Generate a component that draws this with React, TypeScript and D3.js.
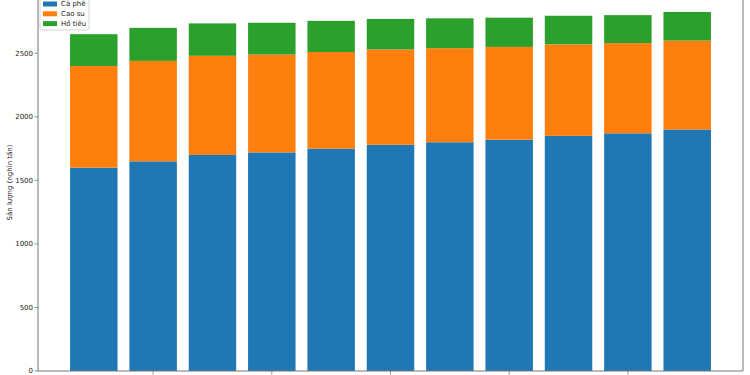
import React from "react";
import * as d3 from "d3";

const years = ["2015", "2016", "2017", "2018", "2019", "2020", "2021", "2022", "2023", "2024", "2025"];
const caPhe = [1600, 1650, 1700, 1720, 1750, 1780, 1800, 1820, 1850, 1870, 1900];
const caoSu = [800, 790, 780, 770, 760, 750, 740, 730, 720, 710, 700];
const hoTieu = [250, 260, 255, 250, 245, 240, 235, 230, 225, 220, 225];
const seriesNames = ["Cà phê", "Cao su", "Hồ tiêu"];
const seriesColors = ["#1f77b4", "#ff7f0e", "#2ca02c"];
const yTicks = [0, 500, 1000, 1500, 2000, 2500];
const yLabel = "Sản lượng (nghìn tấn)";

const W = 750;
const H = 375;
const left = 38;
const right = 743;
const bottom = 371;
const top = -6;
const font = "DejaVu Sans, sans-serif";

export default function App() {
  const n = years.length;
  const pad = 0.05 * (n - 1 + 0.8);
  const x = d3.scaleLinear().domain([-0.4 - pad, n - 1 + 0.4 + pad]).range([left, right]);
  const rows = years.map((yr, i) => ({ yr, a: caPhe[i], b: caoSu[i], c: hoTieu[i] }));
  const stack = d3.stack<any>().keys(["a", "b", "c"])(rows);
  const totals = rows.map((r) => r.a + r.b + r.c);
  const yMax = (d3.max(totals) as number) * 1.05;
  const y = d3.scaleLinear().domain([0, yMax]).range([bottom, top]);
  const bw = x(0.8) - x(0);
  const xTickIdx = years.map((_, i) => i).filter((i) => +years[i] % 2 === 0);

  return (
    <svg width={W} height={H} style={{ position: "absolute", left: 0, top: 0, overflow: "hidden", background: "#fff" }}>
      {stack.map((layer, si) => (
        <g key={si} fill={seriesColors[si]}>
          {layer.map((d, i) => (
            <rect key={i} x={x(i) - bw / 2} y={y(d[1])} width={bw} height={y(d[0]) - y(d[1])} />
          ))}
        </g>
      ))}
      {/* spines */}
      <line x1={left} x2={left} y1={top} y2={bottom} stroke="#777" strokeWidth={1} />
      <line x1={right} x2={right} y1={top} y2={bottom} stroke="#777" strokeWidth={1} />
      <line x1={left} x2={right} y1={bottom} y2={bottom} stroke="#777" strokeWidth={1} />
      {/* y ticks */}
      {yTicks.map((t) => (
        <g key={t}>
          <line x1={left - 3.5} x2={left} y1={y(t)} y2={y(t)} stroke="#777" strokeWidth={0.8} />
          <text x={left - 5} y={y(t)} dy="0.35em" textAnchor="end" fontSize={7} fontFamily={font} fill="#222">
            {t}
          </text>
        </g>
      ))}
      {/* x ticks (labels fall below the visible frame) */}
      {xTickIdx.map((i) => (
        <line key={i} x1={x(i)} x2={x(i)} y1={bottom} y2={bottom + 3.5} stroke="#777" strokeWidth={0.8} />
      ))}
      <text
        transform={`translate(10,${(top + bottom) / 2}) rotate(-90)`}
        textAnchor="middle"
        dy="0.35em"
        fontSize={7}
        fontFamily={font}
        fill="#222"
      >
        {yLabel}
      </text>
      {/* legend */}
      <g>
        <rect x={40} y={-6} width={49} height={36} rx={2} fill="#fff" fillOpacity={0.8} stroke="#ccc" strokeWidth={0.8} />
        {seriesNames.map((s, i) => (
          <g key={s} transform={`translate(0,${4 + i * 9.8})`}>
            <rect x={43} y={-2.5} width={14} height={5} fill={seriesColors[i]} />
            <text x={61} y={0} dy="0.35em" fontSize={7} fontFamily={font} fill="#222">
              {s}
            </text>
          </g>
        ))}
      </g>
    </svg>
  );
}
